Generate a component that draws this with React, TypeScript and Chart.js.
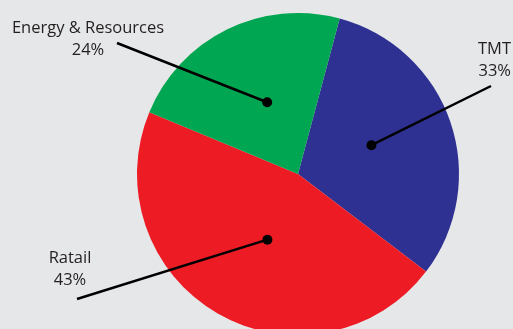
import React, { useEffect, useRef } from "react";
import { Chart, registerables } from "chart.js";

Chart.register(...registerables);

// Categories in drawing order (clockwise from the start angle)
const categories = ["TMT", "Ratail", "Energy & Resources"];
// Slice sizes as drawn in the picture (share of the circle, %)
const sliceValues = [31.2, 45.9, 22.9];
// Percent labels printed next to each category
const percentLabels = ["33%", "43%", "24%"];
const sliceColors = ["#2e3192", "#ed1c24", "#00a651"];

const FONT = "16.5px 'Open Sans', sans-serif";
const VIEW_H = 329;
const CANVAS_H = 340;

const calloutPlugin = {
  id: "callouts",
  afterDatasetsDraw(chart: any) {
    const ctx = chart.ctx;
    const meta = chart.getDatasetMeta(0);
    const W = chart.width;
    // label anchors (line ends), text positions and dot placement inside slice
    const anchors = [
      { lx: W - 22, ly: 86, tx: W - 2, ty: 54, align: "right", af: 0.477, rf: 0.49 },
      { lx: 77, ly: VIEW_H - 30, tx: 70, ty: 263, align: "center", af: 0.47, rf: 0.45 },
      { lx: 117, ly: 43, tx: 88, ty: 33, align: "center", af: 0.536, rf: 0.485 },
    ];
    ctx.save();
    meta.data.forEach((arc: any, i: number) => {
      const a = anchors[i];
      const { x, y, startAngle, endAngle, outerRadius } = arc.getProps(
        ["x", "y", "startAngle", "endAngle", "outerRadius"],
        true
      );
      const ang = startAngle + (endAngle - startAngle) * a.af;
      const r = outerRadius * a.rf;
      const px = x + Math.cos(ang) * r;
      const py = y + Math.sin(ang) * r;
      ctx.strokeStyle = "#000";
      ctx.lineWidth = 2.5;
      ctx.beginPath();
      ctx.moveTo(a.lx, a.ly);
      ctx.lineTo(px, py);
      ctx.stroke();
      ctx.fillStyle = "#000";
      ctx.beginPath();
      ctx.arc(px, py, 5, 0, Math.PI * 2);
      ctx.fill();
      ctx.fillStyle = "#231f20";
      ctx.font = FONT;
      ctx.textAlign = a.align;
      ctx.textBaseline = "alphabetic";
      ctx.fillText(categories[i], a.tx, a.ty);
      ctx.fillText(percentLabels[i], a.tx, a.ty + 22);
    });
    ctx.restore();
  },
};

export default function App() {
  const ref = useRef<HTMLCanvasElement>(null);
  useEffect(() => {
    if (!ref.current) return;
    const chart = new Chart(ref.current, {
      type: "pie",
      data: {
        labels: categories,
        datasets: [
          {
            data: sliceValues,
            backgroundColor: sliceColors,
            borderWidth: 0,
          },
        ],
      },
      options: {
        animation: false,
        responsive: false,
        rotation: 15,
        layout: { padding: { left: 137, right: 54, top: 13, bottom: 5 } },
        plugins: {
          legend: { display: false },
          tooltip: { enabled: false },
        },
      },
      plugins: [calloutPlugin],
    });
    return () => chart.destroy();
  }, []);
  return (
    <div
      style={{
        position: "fixed",
        left: 0,
        top: 0,
        width: 513,
        height: VIEW_H,
        overflow: "hidden",
        background: "#e6e7e8",
      }}
    >
      <canvas ref={ref} width={513} height={CANVAS_H} style={{ display: "block" }} />
    </div>
  );
}
